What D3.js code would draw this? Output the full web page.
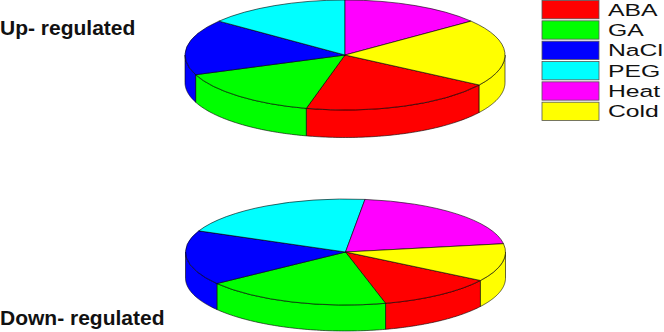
<!doctype html>
<html lang="en">
<head>
	<meta charset="UTF-8">
	<title>up and down regulated | 3d pie</title>
	<style>
		html, body { margin: 0; padding: 0; background: #fff; }
		svg { display: block; }
		text { font-family: "Liberation Sans", Arial, sans-serif; fill: #111; }
		.title { font-size: 21px; font-weight: bold; }
		.legend-label { font-size: 16.5px; }
	</style>
</head>
<body>
	<script src="https://cdn.jsdelivr.net/npm/d3@7/dist/d3.min.js"></script>
	<script>
		// slice sizes in degrees
		var categories = ['ABA', 'GA', 'NaCl', 'PEG', 'Heat', 'Cold'],
			colors = ['#ff0000', '#00ff00', '#0000ff', '#00ffff', '#ff00ff', '#ffff00'],
			upValues = [71, 55, 59, 52, 52, 71],
			downValues = [43, 68, 60, 73.5, 74, 41.5];

		var w = 664,
			h = 332;

		var svg = d3.select('body')
			.append('svg')
			.attr('width', w)
			.attr('height', h);

		var colorScale = d3.scaleOrdinal()
			.domain(categories)
			.range(colors);

		var rad = function(deg) {
			return deg * Math.PI / 180;
		};

		/**
		* draw one flattened pie with its side wall
		* slices run clockwise starting at startDeg
		*/
		var drawPie = function(values, opts) {
			var g = svg.append('g');

			var xScale = d3.scaleLinear().domain([-1, 1]).range([opts.cx - opts.rx, opts.cx + opts.rx]),
				yScale = d3.scaleLinear().domain([-1, 1]).range([opts.cy - opts.ry, opts.cy + opts.ry]);

			var pie = d3.pie()
				.sort(null)
				.startAngle(rad(opts.startDeg))
				.endAngle(rad(opts.startDeg + 360));

			var slices = pie(values).map(function(d, i) {
				return { name: categories[i], from: d.startAngle, to: d.endAngle };
			});

			// angle 0 is north, clockwise positive
			var wall = d3.area()
				.x(function(a) { return xScale(Math.sin(a)); })
				.y0(function(a) { return yScale(-Math.cos(a)); })
				.y1(function(a) { return yScale(-Math.cos(a)) + opts.depth; });

			// only the front half of the rim can be seen
			slices.forEach(function(s) {
				[0, 2 * Math.PI, -2 * Math.PI].forEach(function(turn) {
					var a0 = Math.max(s.from + turn, Math.PI / 2),
						a1 = Math.min(s.to + turn, 3 * Math.PI / 2);
					if (a1 <= a0) return;
					var steps = d3.range(0, 61).map(function(k) {
						return a0 + (a1 - a0) * k / 60;
					});
					g.append('path')
						.attr('d', wall(steps))
						.attr('fill', colorScale(s.name))
						.attr('stroke', '#000')
						.attr('stroke-width', 0.6);
				});
			});

			// top face
			var top = g.append('g')
				.attr('transform', 'translate(' + opts.cx + ',' + opts.cy + ') scale(1,' + (opts.ry / opts.rx) + ')');

			var arc = d3.arc()
				.innerRadius(0)
				.outerRadius(opts.rx);

			top.selectAll('path')
				.data(slices)
				.enter()
				.append('path')
				.attr('d', function(s) {
					return arc({ startAngle: s.from, endAngle: s.to });
				})
				.attr('fill', function(s) { return colorScale(s.name); })
				.attr('stroke', '#000')
				.attr('stroke-width', 0.6)
				.attr('vector-effect', 'non-scaling-stroke');
		};

		var drawLegend = function() {
			var yScale = d3.scaleBand()
				.domain(categories)
				.range([0, 120])
				.paddingInner(0.1);

			var rows = svg.selectAll('.legend-row')
				.data(categories)
				.enter()
				.append('g')
				.attr('class', 'legend-row')
				.attr('transform', function(d) {
					return 'translate(0,' + yScale(d) + ')';
				});

			rows.append('rect')
				.attr('x', 542)
				.attr('y', 0.5)
				.attr('width', 57)
				.attr('height', yScale.bandwidth())
				.attr('fill', function(d) { return colorScale(d); })
				.attr('stroke', '#555')
				.attr('stroke-width', 0.8);

			// the legend text in the picture is stretched sideways
			rows.append('text')
				.attr('class', 'legend-label')
				.attr('transform', 'translate(608,15.5) scale(1.5,1)')
				.text(function(d) { return d; });
		};

		drawPie(upValues, { cx: 345, cy: 55, rx: 160, ry: 55, depth: 27.5, startDeg: 123 });
		drawPie(downValues, { cx: 345.5, cy: 252, rx: 160, ry: 53, depth: 26, startDeg: 122.5 });
		drawLegend();

		svg.append('text').attr('class', 'title').attr('x', 0).attr('y', 35).text('Up- regulated');
		svg.append('text').attr('class', 'title').attr('x', 0).attr('y', 325).text('Down- regulated');
	</script>
</body>
</html>
